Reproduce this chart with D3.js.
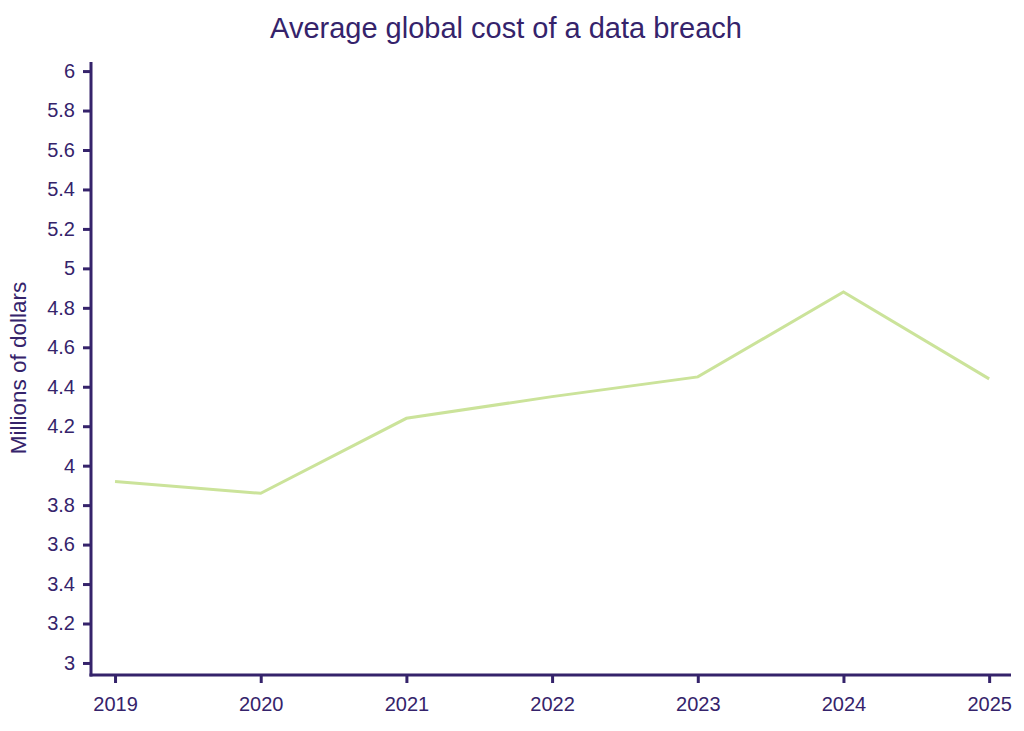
<!DOCTYPE html>
<html>
<head>
<meta charset="utf-8">
<script src="https://cdn.jsdelivr.net/npm/d3@7"></script>
<style>
  body { margin: 0; background: #fff; }
  svg { font-family: "Liberation Sans", Arial, sans-serif; }
</style>
</head>
<body>
<div id="chart"></div>
<script>
// data
const years = [2019, 2020, 2021, 2022, 2023, 2024, 2025];
const costs = [3.92, 3.86, 4.24, 4.35, 4.45, 4.88, 4.44];
const yTicks = [3, 3.2, 3.4, 3.6, 3.8, 4, 4.2, 4.4, 4.6, 4.8, 5, 5.2, 5.4, 5.6, 5.8, 6];

const width = 1024, height = 731;
const ink = '#35236b';

const svg = d3.select('#chart').append('svg')
    .attr('width', width).attr('height', height);

const x = d3.scaleLinear()
    .domain([2018.835, 2025.15])
    .range([91, 1011]);
const y = d3.scaleLinear()
    .domain([2.939, 6.046])
    .range([675, 62]);

// y axis
const yAxis = svg.append('g')
    .attr('transform', 'translate(91,0)')
    .call(d3.axisLeft(y).tickValues(yTicks).tickSize(8).tickPadding(8).tickFormat(d3.format('')));
// x axis
const xAxis = svg.append('g')
    .attr('transform', 'translate(0,675)')
    .call(d3.axisBottom(x).tickValues(years).tickSize(8).tickPadding(14).tickFormat(d3.format('d')));

[yAxis, xAxis].forEach(g => {
    g.select('.domain').remove();
    g.selectAll('.tick line').attr('stroke', ink).attr('stroke-width', 3);
    g.selectAll('.tick text').attr('fill', ink).style('font-size', '20px');
});
svg.append('line').attr('x1', 91).attr('x2', 91).attr('y1', 62).attr('y2', 676.5)
    .attr('stroke', ink).attr('stroke-width', 3);
svg.append('line').attr('x1', 89.5).attr('x2', 1011).attr('y1', 675).attr('y2', 675)
    .attr('stroke', ink).attr('stroke-width', 3);

const line = d3.line()
    .x((d, i) => x(years[i]))
    .y(d => y(d));

svg.append('path')
    .datum(costs)
    .attr('fill', 'none')
    .attr('stroke', '#cbe39a')
    .attr('stroke-width', 3)
    .attr('d', line);

svg.append('text')
    .attr('x', 506).attr('y', 38)
    .attr('text-anchor', 'middle')
    .attr('fill', ink)
    .style('font-size', '29px')
    .text('Average global cost of a data breach');

svg.append('text')
    .attr('transform', 'translate(26,368) rotate(-90)')
    .attr('text-anchor', 'middle')
    .attr('fill', ink)
    .style('font-size', '22.5px')
    .text('Millions of dollars');
</script>
</body>
</html>
